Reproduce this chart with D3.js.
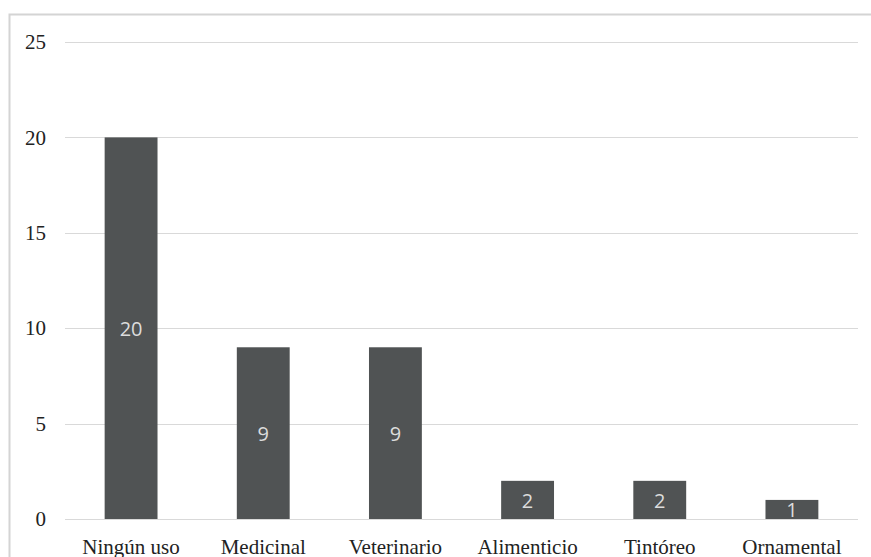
<!DOCTYPE html>
<html>
<head>
<meta charset="utf-8">
<script src="https://cdn.jsdelivr.net/npm/d3@7"></script>
<style>
  body { margin: 0; background: #fff; }
  svg { display: block; }
</style>
</head>
<body>
<div id="chart"></div>
<script>

//******************************************************************************
//**  Data
//******************************************************************************
var categories = ["Ningún uso", "Medicinal", "Veterinario", "Alimenticio", "Tintóreo", "Ornamental"];
var values = [20, 9, 9, 2, 2, 1];
var yTicks = [0, 5, 10, 15, 20, 25];


//******************************************************************************
//**  Chart
//******************************************************************************
var width = 871, height = 557;
var plot = {left: 65, right: 858, top: 42, bottom: 519};

var svg = d3.select("#chart").append("svg")
    .attr("width", width)
    .attr("height", height);

//outer frame (only left + top visible in the picture)
svg.append("rect")
    .attr("x", 9.5)
    .attr("y", 14.5)
    .attr("width", 900)
    .attr("height", 600)
    .attr("fill", "none")
    .attr("stroke", "#d4d4d4")
    .attr("stroke-width", 2);

var x = d3.scaleBand()
    .domain(categories)
    .range([plot.left, plot.right])
    .paddingInner(0.6)
    .paddingOuter(0.3);

var y = d3.scaleLinear()
    .domain([0, 25])
    .range([plot.bottom, plot.top]);


//gridlines
svg.append("g")
    .selectAll("line")
    .data(yTicks)
    .enter()
    .append("line")
    .attr("x1", plot.left)
    .attr("x2", plot.right)
    .attr("y1", function(d){ return Math.round(y(d)) + 0.5; })
    .attr("y2", function(d){ return Math.round(y(d)) + 0.5; })
    .attr("stroke", "#d9d9d9")
    .attr("stroke-width", 1.2);


//y axis labels
var yAxis = d3.axisLeft(y).tickValues(yTicks).tickSize(0).tickPadding(0);
var gy = svg.append("g")
    .attr("transform", "translate(46,0)")
    .call(yAxis);
gy.select(".domain").remove();
gy.selectAll("text")
    .attr("font-family", "'Liberation Serif', 'Times New Roman', serif")
    .attr("font-size", 21)
    .attr("fill", "#222");


//bars
svg.append("g")
    .selectAll("rect")
    .data(values)
    .enter()
    .append("rect")
    .attr("x", function(d, i){ return x(categories[i]); })
    .attr("y", function(d){ return y(d); })
    .attr("width", x.bandwidth())
    .attr("height", function(d){ return y(0) - y(d); })
    .attr("fill", "#505354");


//data labels
svg.append("g")
    .selectAll("text")
    .data(values)
    .enter()
    .append("text")
    .attr("x", function(d, i){ return x(categories[i]) + x.bandwidth()/2; })
    .attr("y", function(d){ return (y(d) + y(0))/2 + 8; })
    .attr("text-anchor", "middle")
    .attr("font-family", "'Open Sans', sans-serif")
    .attr("font-size", 20)
    .attr("fill", "#dcdcdc")
    .text(function(d){ return d; });


//x axis labels
var xAxis = d3.axisBottom(x).tickSize(0).tickPadding(0);
var gx = svg.append("g")
    .attr("transform", "translate(0," + plot.bottom + ")")
    .call(xAxis);
gx.select(".domain").remove();
gx.selectAll("text")
    .attr("dy", null)
    .attr("y", 35)
    .attr("font-family", "'Liberation Serif', 'Times New Roman', serif")
    .attr("font-size", 21)
    .attr("fill", "#222");

</script>
</body>
</html>
